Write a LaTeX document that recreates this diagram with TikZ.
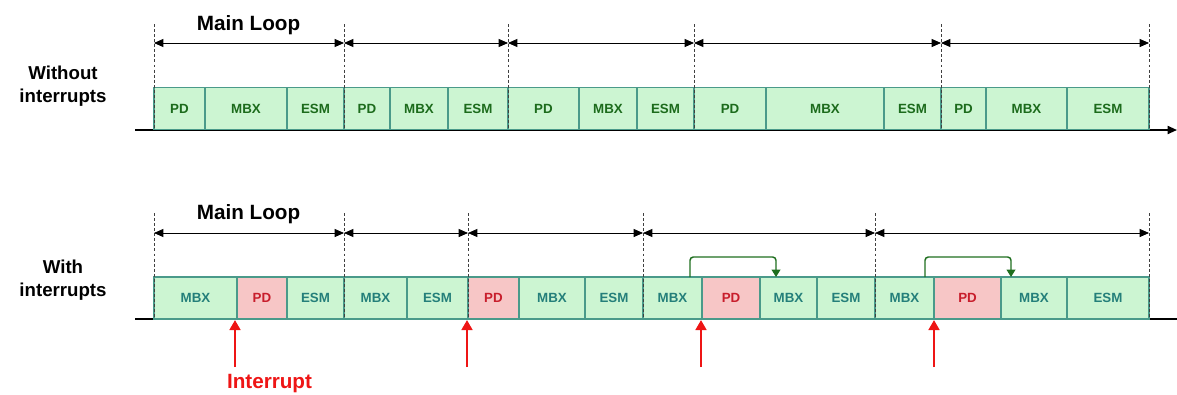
\documentclass[tikz,border=0pt]{standalone}
\usepackage{fontspec}
\setmainfont{Liberation Sans}
\usetikzlibrary{arrows.meta}
\definecolor{boxgreen}{HTML}{CCF5D2}
\definecolor{boxred}{HTML}{F7C6C6}
\definecolor{boxline}{HTML}{4A9A8A}
\definecolor{topgreen}{HTML}{1C6B1C}
\definecolor{segteal}{HTML}{247F7A}
\definecolor{pdred}{HTML}{C81E2C}
\definecolor{intred}{HTML}{EE1515}
\definecolor{jumpgreen}{HTML}{1E6E1E}
\tikzset{
  seg/.style={draw=boxline, line width=0.8pt, inner sep=0pt, minimum height=31.5pt,
    font=\fontsize{10}{12}\selectfont\bfseries},
  segtop/.style={seg, fill=boxgreen, text=topgreen},
  segbot/.style={seg, fill=boxgreen, text=segteal},
  segred/.style={seg, fill=boxred, text=pdred},
  guide/.style={dashed, dash pattern=on 2.2pt off 1.6pt, line width=0.5pt, black!75},
  span/.style={{Triangle[length=7pt,width=6pt]}-{Triangle[length=7pt,width=6pt]}, line width=0.6pt},
  axis/.style={line width=1.3pt},
  intarrow/.style={-{Triangle[length=7.5pt,width=8pt]}, line width=2.2pt, intred},
  jump/.style={-{Triangle[length=5.5pt,width=6.5pt]}, line width=1.1pt, jumpgreen, rounded corners=2.5pt},
  rowlabel/.style={font=\fontsize{14}{17}\selectfont\bfseries, align=center},
  looplabel/.style={font=\fontsize{15.5}{18}\selectfont\bfseries}
}
\begin{document}
\begin{tikzpicture}[x=0.75pt,y=-0.75pt]
\useasboundingbox (0,0) rectangle (1177,394);
% ---------- top row ----------
\coordinate (axTs) at (135,130);
\coordinate (axTe) at (1177,130);
\draw[axis,-{Triangle[length=7pt,width=6pt]}] (axTs) -- (axTe);
\foreach \a/\b/\t/\n in {154/205/PD/t1,205/287/MBX/t2,287/344/ESM/t3,344/390/PD/t4,390/448/MBX/t5,448/508/ESM/t6,508/579/PD/t7,579/637/MBX/t8,637/694/ESM/t9,694/766/PD/t10,766/884/MBX/t11,884/941/ESM/t12,941/986/PD/t13,986/1067/MBX/t14,1067/1149/ESM/t15}
  \node[segtop, minimum width={(\b-\a)*0.75pt}] (\n) at ({(\a+\b)/2},108.5) {\t};
\foreach \x [count=\i] in {154,344,508,694,941,1149} {
  \coordinate (tg\i) at (\x,24);
  \coordinate (tb\i) at (\x,129);
  \coordinate (ta\i) at (\x,43);
  \draw[guide] (tg\i) -- (tb\i);
}
\foreach \i/\j in {1/2,2/3,3/4,4/5,5/6}
  \draw[span] (ta\i) -- (ta\j);
\node[looplabel, anchor=base] (ml1) at (248.5,30) {Main Loop};
\node[rowlabel] (wo) at (63,86) {Without\\interrupts};
% ---------- bottom row ----------
\coordinate (axBs) at (135,319);
\coordinate (axBe) at (1177,319);
\draw[axis] (axBs) -- (axBe);
\foreach \a/\b/\t/\n/\s in {154/237/MBX/b1/segbot,237/287/PD/b2/segred,287/344/ESM/b3/segbot,344/407/MBX/b4/segbot,407/468/ESM/b5/segbot,468/519/PD/b6/segred,519/585/MBX/b7/segbot,585/643/ESM/b8/segbot,643/702/MBX/b9/segbot,702/760/PD/b10/segred,760/817/MBX/b11/segbot,817/875/ESM/b12/segbot,875/934/MBX/b13/segbot,934/1001/PD/b14/segred,1001/1067/MBX/b15/segbot,1067/1149/ESM/b16/segbot}
  \node[\s, minimum width={(\b-\a)*0.75pt}] (\n) at ({(\a+\b)/2},298) {\t};
\foreach \x [count=\i] in {154,344,468,643,875,1149} {
  \coordinate (bg\i) at (\x,213);
  \coordinate (bb\i) at (\x,319);
  \coordinate (ba\i) at (\x,233);
  \draw[guide] (bg\i) -- (bb\i);
}
\foreach \i/\j in {1/2,2/3,3/4,4/5,5/6}
  \draw[span] (ba\i) -- (ba\j);
\node[looplabel, anchor=base] (ml2) at (248.5,219) {Main Loop};
\node[rowlabel] (wi) at (63,280) {With\\interrupts};
% green jumps
\coordinate (j1a) at (690,277);
\coordinate (j1b) at (776,277);
\coordinate (j2a) at (925,277);
\coordinate (j2b) at (1011,277);
\draw[jump] (j1a) -- (690,257) -- (776,257) -- (j1b);
\draw[jump] (j2a) -- (925,257) -- (1011,257) -- (j2b);
% interrupts
\foreach \x [count=\i] in {235,467,701,934} {
  \coordinate (is\i) at (\x,367);
  \coordinate (ie\i) at (\x,320);
  \draw[intarrow] (is\i) -- (ie\i);
}
\node[anchor=base, text=intred, font=\fontsize{15.5}{18}\selectfont\bfseries] (intl) at (269.5,388.5) {Interrupt};
\end{tikzpicture}
\end{document}
